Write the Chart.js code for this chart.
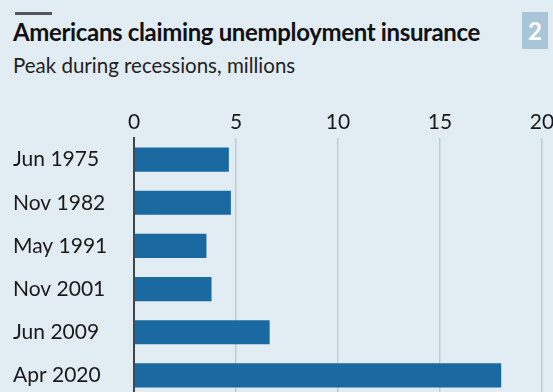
<!DOCTYPE html>
<html>
<head>
<meta charset="utf-8">
<script src="https://cdn.jsdelivr.net/npm/chart.js@4/dist/chart.umd.min.js"></script>
<style>
  html, body { margin: 0; padding: 0; width: 553px; height: 392px; overflow: hidden; background: #e2ecf3; }
  #wrap { position: relative; width: 553px; height: 392px; }
  #bar { position: absolute; left: 15px; top: 12px; width: 37px; height: 3px; background: #555; }
  #title { position: absolute; left: 13px; top: 17px; font-family: Lato, sans-serif; font-weight: 700; font-size: 24px; color: #111; white-space: nowrap; letter-spacing: -0.35px; }
  #sub { position: absolute; left: 13px; top: 53px; font-family: Lato, sans-serif; font-size: 20.5px; color: #222; white-space: nowrap; }
  #num { position: absolute; left: 522px; top: 12px; width: 26px; height: 37px; background: #a9c6d9; color: #fff; font-family: Lato, sans-serif; font-weight: 700; font-size: 24px; text-align: center; line-height: 37px; }
  #cv { position: absolute; left: 0; top: 100px; }
</style>
</head>
<body>
<div id="wrap">
  <div id="bar"></div>
  <div id="title">Americans claiming unemployment insurance</div>
  <div id="sub">Peak during recessions, millions</div>
  <div id="num">2</div>
  <canvas id="cv" width="553" height="297"></canvas>
</div>
<script>
const categories = ["Jun 1975", "Nov 1982", "May 1991", "Nov 2001", "Jun 2009", "Apr 2020"];
const peakClaims = [4.65, 4.75, 3.55, 3.8, 6.65, 18.0];
const xTicks = [0, 5, 10, 15, 20];

new Chart(document.getElementById('cv'), {
  type: 'bar',
  data: {
    labels: categories,
    datasets: [{
      data: peakClaims,
      backgroundColor: '#1b69a1',
      borderWidth: 0,
      categoryPercentage: 1,
      barPercentage: 0.56
    }]
  },
  options: {
    indexAxis: 'y',
    responsive: false,
    animation: false,
    devicePixelRatio: 1,
    layout: { padding: { left: 13, right: 0, top: 0, bottom: 0 } },
    plugins: { legend: { display: false }, tooltip: { enabled: false } },
    scales: {
      x: {
        position: 'top',
        min: 0, max: 20,
        afterBuildTicks: s => { s.ticks = xTicks.map(v => ({ value: v })); },
        afterFit: s => { s.height = 38; s.paddingRight = 11; s.paddingLeft = 0; },
        border: { display: false },
        grid: {
          drawTicks: false,
          color: ctx => ctx.tick && ctx.tick.value === 0 ? 'rgba(0,0,0,0)' : '#c2cbd2',
          lineWidth: 1.5
        },
        ticks: {
          padding: 3,
          color: '#1a1a1a',
          font: { family: 'Lato, sans-serif', size: 21 }
        }
      },
      y: {
        afterFit: s => { s.width = 121; s.paddingTop = 0; s.paddingBottom = 0; },
        border: { display: true, color: '#444', width: 2 },
        grid: { display: false },
        ticks: {
          crossAlign: 'far',
          padding: 0,
          color: '#1a1a1a',
          font: { family: 'Lato, sans-serif', size: 21 }
        }
      }
    }
  }
});
</script>
</body>
</html>
